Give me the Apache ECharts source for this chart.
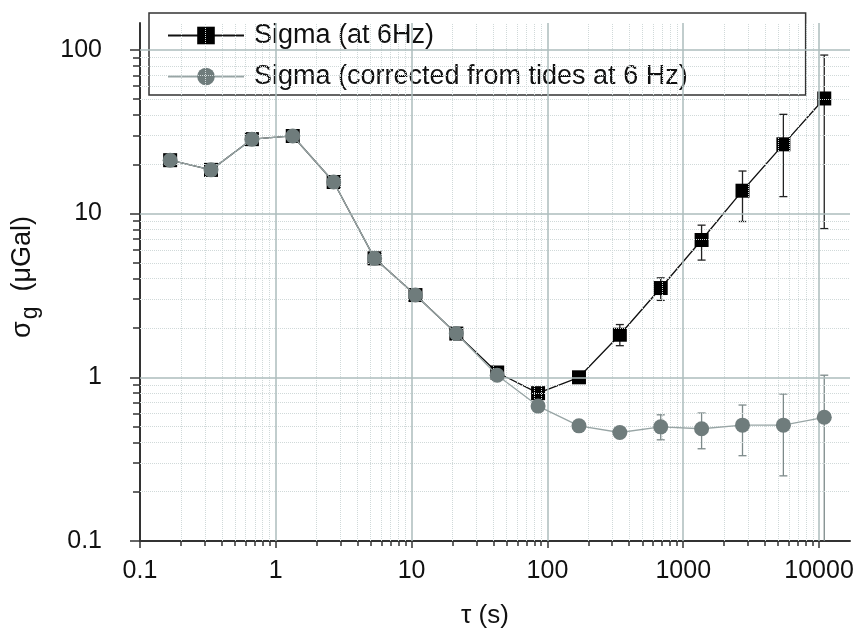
<!DOCTYPE html>
<html>
<head>
<meta charset="utf-8">
<script src="https://cdn.jsdelivr.net/npm/echarts@6/dist/echarts.min.js"></script>
<style>
  html, body {margin: 0; padding: 0; background: #fff;}
  #chart {width: 868px; height: 634px;}
</style>
</head>
<body>
<div id="chart"></div>
<script>
// averaging time tau (s), 6 Hz sampling -> 2^n / 6
var tau = [0.1667, 0.3333, 0.6667, 1.333, 2.667, 5.333, 10.67, 21.33, 42.67, 85.33, 170.7, 341.3, 682.7, 1365, 2731, 5461, 10923];
var sigma6 = [21.2, 18.5, 28.5, 29.8, 15.6, 5.33, 3.18, 1.85, 1.07, 0.8, 1.0, 1.82, 3.51, 6.9, 13.8, 26.5, 50.5];
var sigmaCorr = [21.2, 18.5, 28.5, 29.8, 15.6, 5.33, 3.18, 1.85, 1.03, 0.667, 0.505, 0.46, 0.498, 0.485, 0.51, 0.51, 0.57];

// error bars
var errTau6 = [170.7, 341.3, 682.7, 1365, 2731, 5461, 10923];
var errLow6 = [0.94, 1.56, 2.95, 5.2, 8.95, 12.7, 8.1];
var errHigh6 = [1.06, 2.1, 4.05, 8.5, 18.2, 40.4, 93];
var errTauCorr = [682.7, 1365, 2731, 5461, 10923];
var errLowCorr = [0.415, 0.366, 0.332, 0.25, 0.05];
var errHighCorr = [0.59, 0.605, 0.677, 0.79, 1.03];

var xTicks = [0.1, 1, 10, 100, 1000, 10000];
var yTicks = [0.1, 1, 10, 100];
var xMin = 0.1, xMax = 16900, yMin = 0.1, yMax = 146;

function minorsOf(decades, max) {
  var out = [];
  decades.forEach(function (d) {
    for (var k = 2; k <= 9; k++) {
      var v = +(d * k).toPrecision(3);
      if (v < max) out.push(v);
    }
  });
  return out;
}
var xMinor = minorsOf(xTicks, xMax);
var yMinor = minorsOf(yTicks, yMax);

var AXIS = '#333';
var MAJOR_GRID = '#adbcbc';
var MINOR_GRID = '#d0d9d9';
var FONT = 'Liberation Sans, Arial, sans-serif';

var chart = echarts.init(document.getElementById('chart'));

function pairs(xs, ys) {
  return xs.map(function (x, i) { return [x, ys[i]]; });
}
function triples(xs, lo, hi) {
  return xs.map(function (x, i) { return [x, lo[i], hi[i]]; });
}

function errBar(color) {
  return function (params, api) {
    var cs = params.coordSys;
    var bottom = cs.y + cs.height;
    var x = api.value(0);
    var top = api.coord([x, api.value(2)]);
    var low = api.coord([x, api.value(1)]);
    var clipped = low[1] > bottom;
    var y2 = Math.min(low[1], bottom);
    var w = 4;
    var st = {stroke: color, lineWidth: 1.3};
    var kids = [
      {type: 'line', shape: {x1: top[0], y1: top[1], x2: top[0], y2: y2}, style: st},
      {type: 'line', shape: {x1: top[0] - w, y1: top[1], x2: top[0] + w, y2: top[1]}, style: st}
    ];
    if (!clipped) {
      kids.push({type: 'line', shape: {x1: low[0] - w, y1: low[1], x2: low[0] + w, y2: low[1]}, style: st});
    }
    return {type: 'group', children: kids};
  };
}

function gridLines(values, dim, color, type) {
  return values.map(function (v) {
    var d = {};
    d[dim] = v;
    d.lineStyle = {color: color, type: type, width: type === 'solid' ? 1.5 : 1};
    return d;
  });
}

var gridData = []
  .concat(gridLines(xMinor, 'xAxis', MINOR_GRID, 'dotted'))
  .concat(gridLines(yMinor, 'yAxis', MINOR_GRID, 'dotted'))
  .concat(gridLines(xTicks.slice(1), 'xAxis', MAJOR_GRID, 'solid'))
  .concat(gridLines(yTicks.slice(1), 'yAxis', MAJOR_GRID, 'solid'));

var labelFmt = function (v) { return String(+v.toPrecision(3)); };

chart.setOption({
  animation: false,
  backgroundColor: '#fff',
  textStyle: {fontFamily: FONT},
  grid: {left: 140, right: 18, top: 23, bottom: 89},
  legend: {
    left: 149,
    top: 13,
    orient: 'vertical',
    padding: [9, 118, 5, 18],
    itemGap: 14,
    itemWidth: 76,
    itemHeight: 22,
    borderColor: '#333',
    borderWidth: 1.5,
    backgroundColor: '#fff',
    textStyle: {fontSize: 27, color: '#111', padding: [0, 0, 0, 5]},
    data: ['Sigma (at 6Hz)', 'Sigma (corrected from tides at 6 Hz)']
  },
  xAxis: [{
    type: 'log',
    logBase: 10,
    min: xMin,
    max: xMax,
    name: 'τ (s)',
    nameLocation: 'middle',
    nameGap: 62,
    nameTextStyle: {fontSize: 26, color: '#111', padding: [0, 20, 0, 0]},
    axisLine: {onZero: false, lineStyle: {color: AXIS, width: 2}},
    axisTick: {customValues: xTicks, length: 7, lineStyle: {color: AXIS, width: 1.5}},
    axisLabel: {customValues: xTicks, formatter: labelFmt, fontSize: 25, color: '#111', margin: 18},
    splitLine: {show: false}
  }, {
    type: 'log',
    logBase: 10,
    min: xMin,
    max: xMax,
    position: 'bottom',
    axisLine: {show: false, onZero: false},
    axisTick: {customValues: xMinor, length: 5, lineStyle: {color: AXIS, width: 1.5}},
    axisLabel: {show: false},
    splitLine: {show: false}
  }],
  yAxis: [{
    type: 'log',
    logBase: 10,
    min: yMin,
    max: yMax,
    name: '{s|σ}{sub|g}{s|  (μGal)}',
    nameLocation: 'middle',
    nameGap: 98,
    nameRotate: 90,
    nameTextStyle: {
      color: '#111',
      padding: [0, 0, 0, 10],
      rich: {
        s: {fontSize: 27, color: '#111', fontFamily: FONT},
        sub: {fontSize: 23, color: '#111', fontFamily: FONT, padding: [16, 0, 0, 2]}
      }
    },
    axisLine: {onZero: false, lineStyle: {color: AXIS, width: 2}},
    axisTick: {customValues: yTicks, length: 10, lineStyle: {color: AXIS, width: 1.5}},
    axisLabel: {customValues: yTicks, formatter: labelFmt, fontSize: 25, color: '#111', margin: 38},
    splitLine: {show: false}
  }, {
    type: 'log',
    logBase: 10,
    min: yMin,
    max: yMax,
    position: 'left',
    axisLine: {show: false, onZero: false},
    axisTick: {customValues: yMinor, length: 7, lineStyle: {color: AXIS, width: 1.5}},
    axisLabel: {show: false},
    splitLine: {show: false}
  }],
  series: [
    {
      // grid lines as mark lines on the log scales
      type: 'line',
      data: [],
      z: 1,
      silent: true,
      markLine: {silent: true, symbol: 'none', label: {show: false}, data: gridData}
    },
    {
      type: 'custom',
      name: 'err6',
      data: triples(errTau6, errLow6, errHigh6),
      renderItem: errBar('#222'),
      z: 3,
      silent: true
    },
    {
      type: 'custom',
      name: 'errCorr',
      data: triples(errTauCorr, errLowCorr, errHighCorr),
      renderItem: errBar('#7d8a8a'),
      z: 3,
      silent: true
    },
    {
      type: 'line',
      name: 'Sigma (at 6Hz)',
      data: pairs(tau, sigma6),
      symbol: 'rect',
      symbolSize: 14,
      itemStyle: {color: '#000'},
      lineStyle: {color: '#111', width: 1.3},
      z: 4
    },
    {
      type: 'line',
      name: 'Sigma (corrected from tides at 6 Hz)',
      data: pairs(tau, sigmaCorr),
      symbol: 'circle',
      symbolSize: 15,
      itemStyle: {color: '#6f7c7c'},
      lineStyle: {color: '#98a5a5', width: 1.3},
      z: 5
    }
  ]
});
</script>
</body>
</html>
